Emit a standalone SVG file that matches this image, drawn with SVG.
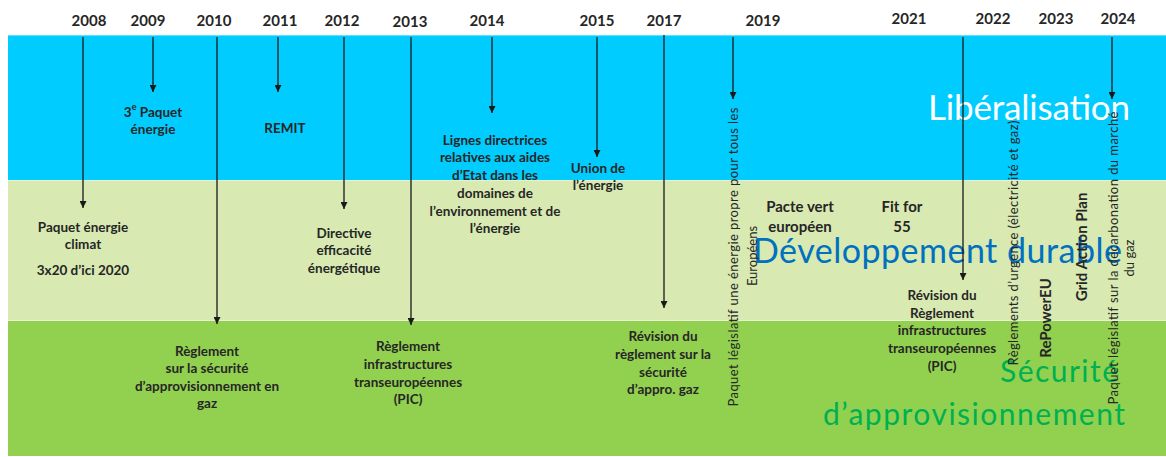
<svg xmlns="http://www.w3.org/2000/svg" width="1166" height="457" viewBox="0 0 1166 457">
<style>
.year{font-family:Lato,"Liberation Sans",sans-serif;font-weight:700;font-size:15px;fill:#262626;text-anchor:middle}
.lbl{font-family:Lato,"Liberation Sans",sans-serif;font-weight:700;font-size:13.5px;fill:#262626;text-anchor:middle;dominant-baseline:central}
.lbl2{font-family:Lato,"Liberation Sans",sans-serif;font-weight:700;font-size:15px;fill:#262626;text-anchor:middle;dominant-baseline:central}
.vt{font-family:Lato,"Liberation Sans",sans-serif;font-weight:400;font-size:13px;fill:#262626;text-anchor:middle;dominant-baseline:central}
.vtb{font-family:Lato,"Liberation Sans",sans-serif;font-weight:700;font-size:15px;fill:#262626;text-anchor:middle;dominant-baseline:central}
.big{font-family:Lato,"Liberation Sans",sans-serif;font-weight:400}
.conn line{stroke:#1a1a1a;stroke-width:1.3;marker-end:url(#ah)}
</style>
<defs>
<marker id="ah" viewBox="0 0 10 10" refX="10" refY="5" markerWidth="7" markerHeight="7" markerUnits="userSpaceOnUse" orient="auto">
<path d="M0,0 L10,5 L0,10 z" fill="#1a1a1a"/>
</marker>
</defs>
<rect width="1166" height="457" fill="#ffffff"/>
<g id="bands">
<rect x="8" y="35" width="1158" height="145" fill="#00CCFF"/>
<rect x="8" y="180" width="1158" height="140" fill="#D8E9B1"/>
<rect x="8" y="320" width="1158" height="136" fill="#92D050"/>
<line x1="8" y1="180.5" x2="1166" y2="180.5" stroke="#E6F2D2" stroke-width="1"/>
<line x1="8" y1="320.5" x2="1166" y2="320.5" stroke="#E6F2D2" stroke-width="1"/>
<line x1="8" y1="35.5" x2="1166" y2="35.5" stroke="#5FE0FF" stroke-width="1"/>
<text class="big" x="928" y="120" font-size="35" fill="#ffffff" textLength="202">Libéralisation</text>
<text class="big" x="753" y="263" font-size="34" fill="#0070C0" textLength="369">Développement durable</text>
<text class="big" x="1000" y="382" font-size="30" fill="#00B050" textLength="118">Sécurité</text>
<text class="big" x="823" y="425" font-size="30" fill="#00B050" textLength="302">d’approvisionnement</text>
</g>
<g id="years">
<text class="year" x="89" y="26">2008</text>
<text class="year" x="148" y="26">2009</text>
<text class="year" x="214" y="26">2010</text>
<text class="year" x="280" y="26">2011</text>
<text class="year" x="342" y="26">2012</text>
<text class="year" x="410" y="27">2013</text>
<text class="year" x="487" y="26">2014</text>
<text class="year" x="597" y="26">2015</text>
<text class="year" x="664" y="26">2017</text>
<text class="year" x="763" y="26">2019</text>
<text class="year" x="909" y="24">2021</text>
<text class="year" x="993" y="24">2022</text>
<text class="year" x="1056" y="24">2023</text>
<text class="year" x="1118" y="24">2024</text>
</g>
<g id="connectors" class="conn">
<line x1="83" y1="37" x2="83" y2="208"/>
<line x1="153" y1="37" x2="153" y2="92"/>
<line x1="217" y1="37" x2="217" y2="324"/>
<line x1="278" y1="37" x2="278" y2="92"/>
<line x1="344" y1="37" x2="344" y2="209"/>
<line x1="411" y1="37" x2="411" y2="325"/>
<line x1="492" y1="37" x2="492" y2="113"/>
<line x1="597" y1="37" x2="597" y2="157"/>
<line x1="664" y1="35" x2="664" y2="308"/>
<line x1="733" y1="37" x2="733" y2="99"/>
<line x1="963" y1="37" x2="963" y2="280"/>
<line x1="1112" y1="37" x2="1112" y2="99"/>
</g>
<g id="n2008">
<text class="lbl" x="83" y="227">Paquet énergie</text>
<text class="lbl" x="83" y="244">climat</text>
<text class="lbl" x="83" y="270">3x20 d’ici 2020</text>
</g>
<g id="n2009">
<text class="lbl" x="153" y="112">3<tspan font-size="9" baseline-shift="super">e</tspan> Paquet</text>
<text class="lbl" x="153" y="129">énergie</text>
</g>
<g id="n2010">
<text class="lbl" x="207" y="351">Règlement</text>
<text class="lbl" x="207" y="368">sur la sécurité</text>
<text class="lbl" x="207" y="386">d’approvisionnement en</text>
<text class="lbl" x="207" y="403">gaz</text>
</g>
<g id="n2011">
<text class="lbl" x="285" y="128">REMIT</text>
</g>
<g id="n2012">
<text class="lbl" x="344" y="233">Directive</text>
<text class="lbl" x="344" y="250">efficacité</text>
<text class="lbl" x="344" y="268">énergétique</text>
</g>
<g id="n2013">
<text class="lbl" x="408" y="346">Règlement</text>
<text class="lbl" x="408" y="364">infrastructures</text>
<text class="lbl" x="408" y="382">transeuropéennes</text>
<text class="lbl" x="408" y="399">(PIC)</text>
</g>
<g id="n2014">
<text class="lbl" x="495" y="140">Lignes directrices</text>
<text class="lbl" x="495" y="157">relatives aux aides</text>
<text class="lbl" x="495" y="175">d’Etat dans les</text>
<text class="lbl" x="495" y="193">domaines de</text>
<text class="lbl" x="495" y="211">l’environnement et de</text>
<text class="lbl" x="495" y="228">l’énergie</text>
</g>
<g id="n2015">
<text class="lbl" x="598" y="168">Union de</text>
<text class="lbl" x="598" y="185">l’énergie</text>
</g>
<g id="n2017">
<text class="lbl" x="663" y="336">Révision du</text>
<text class="lbl" x="663" y="354">règlement sur la</text>
<text class="lbl" x="663" y="372">sécurité</text>
<text class="lbl" x="663" y="389">d’appro. gaz</text>
</g>
<g id="n2019">
<text class="vt" transform="translate(733,257) rotate(-90)" textLength="299">Paquet législatif une énergie propre pour tous les</text>
<text class="vt" transform="translate(752,256) rotate(-90)">Européens</text>
<text class="lbl2" x="800" y="206">Pacte vert</text>
<text class="lbl2" x="800" y="226">européen</text>
</g>
<g id="n2021">
<text class="lbl2" x="902" y="206">Fit for</text>
<text class="lbl2" x="902" y="226">55</text>
<text class="lbl" x="942" y="295">Révision du</text>
<text class="lbl" x="942" y="313">Règlement</text>
<text class="lbl" x="942" y="330">infrastructures</text>
<text class="lbl" x="942" y="348">transeuropéennes</text>
<text class="lbl" x="942" y="366">(PIC)</text>
</g>
<g id="n2022">
<text class="vt" transform="translate(1013,243) rotate(-90)" textLength="245">Règlements d’urgence (électricité et gaz)</text>
<text class="vtb" transform="translate(1045,318) rotate(-90)">RePowerEU</text>
</g>
<g id="n2023">
<text class="vtb" transform="translate(1081,247) rotate(-90)">Grid Action Plan</text>
</g>
<g id="n2024">
<text class="vt" transform="translate(1113,258) rotate(-90)" textLength="293">Paquet législatif sur la décarbonation du marché</text>
<text class="vt" transform="translate(1129,258) rotate(-90)">du gaz</text>
</g>
</svg>
